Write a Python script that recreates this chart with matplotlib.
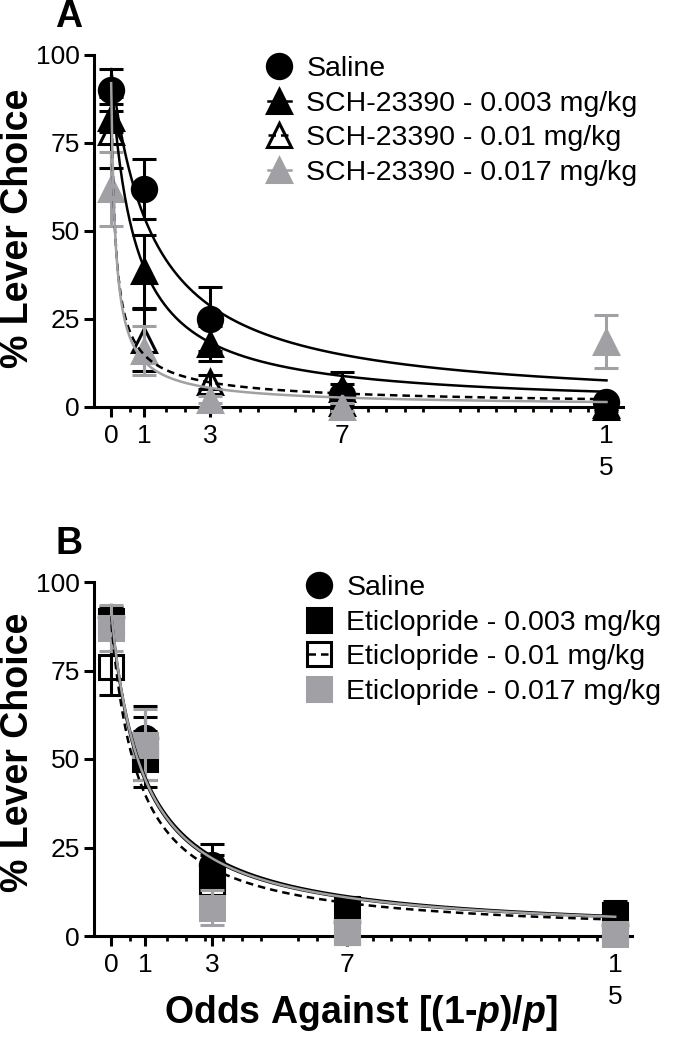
import numpy as np
import matplotlib
matplotlib.use("Agg")
import matplotlib.pyplot as plt
from matplotlib.lines import Line2D

plt.rcParams['font.family'] = ['Liberation Sans', 'DejaVu Sans']
plt.rcParams['mathtext.fontset'] = 'custom'
plt.rcParams['mathtext.it'] = 'Liberation Sans:italic:bold'
plt.rcParams['mathtext.rm'] = 'Liberation Sans:bold'

# x values (odds against)
odds = [0, 1, 3, 7, 15]
odds_labels = ['0', '1', '3', '7', '1\n5']

# Panel A - SCH-23390
labels_A = ['Saline', 'SCH-23390 - 0.003 mg/kg', 'SCH-23390 - 0.01 mg/kg', 'SCH-23390 - 0.017 mg/kg']
saline_A = [90, 62, 25, 3.5, 1.5]
saline_A_err = [6, 8.5, 9, 3, 1]
sch003 = [82, 38.5, 18, 5, 0]
sch003_err = [4, 10.5, 5, 5, 1]
sch01 = [78, 19, 7, 1, 0.5]
sch01_err = [10, 8.7, 2, 1, 1]
sch017 = [62, 16, 2, 0, 18.5]
sch017_err = [10.5, 7, 1, 1, 7.5]
# fitted curves y = amp / (1 + k*x)^s
fitA_amp = [96, 94, 94, 92]
fitA_k = [0.78, 1.38, 12, 9]
fitA_s = [1, 1, 0.72, 0.85]

# Panel B - Eticlopride
labels_B = ['Saline', 'Eticlopride - 0.003 mg/kg', 'Eticlopride - 0.01 mg/kg', 'Eticlopride - 0.017 mg/kg']
saline_B = [90, 56, 20, 4, 3]
saline_B_err = [3, 9, 6, 3, 2]
eti003 = [89, 50, 17, 7.5, 6]
eti003_err = [3, 8, 6, 3.5, 4]
eti01 = [76, 53, 15, 1, 1]
eti01_err = [8, 9, 5, 2, 1]
eti017 = [87, 54, 8, 1, 0.5]
eti017_err = [6.5, 10, 5, 2, 1]
fitB_amp = [90, 90, 88, 91]
fitB_k = [1.0, 1.05, 1.2, 1.05]
fitB_s = [1, 1, 1, 1]

GRAY = '#a0a0a5'
black = 'black'
MS = 17.5


def panel(ax, ys, errs, amps, ks, ss, labels, marker, legend_pos):
    styles = [
        dict(marker='o', color=black, mfc=black, ls='-'),
        dict(marker=marker, color=black, mfc=black, ls='-'),
        dict(marker=marker, color=black, mfc='none', ls='--'),
        dict(marker=marker, color=GRAY, mfc=GRAY, ls='-'),
    ]
    xs = np.linspace(0, 15, 400)
    handles = []
    for i, (y, e, st) in enumerate(zip(ys, errs, styles)):
        eb = ax.errorbar(odds, y, yerr=e, fmt=st['marker'], ms=MS, color=st['color'],
                         mfc=st['mfc'], mec=st['color'], mew=2.2, capsize=8.5,
                         elinewidth=2.2, capthick=2.4, zorder=3 + i)
        eb.lines[0].set_clip_on(False)
        for art in list(eb.lines[1]) + list(eb.lines[2]):
            art.set_clip_on(False)
        curve = amps[i] / (1 + ks[i] * xs) ** ss[i]
        ax.plot(xs, curve, ls=st['ls'], color=st['color'], lw=1.8, zorder=10,
                dashes=(3, 2) if st['ls'] == '--' else (None, None), clip_on=False)
        h = Line2D([], [], marker=st['marker'], ms=MS, color=st['color'], mfc=st['mfc'],
                   mec=st['color'], mew=2.2, lw=1.8, ls=st['ls'])
        if st['ls'] == '--':
            h.set_dashes((3, 2))
        handles.append(h)

    ax.set_xlim(-0.52, 15.5)
    ax.set_ylim(0, 100)
    ax.spines['top'].set_visible(False)
    ax.spines['right'].set_visible(False)
    for sp in ('left', 'bottom'):
        ax.spines[sp].set_linewidth(2.2)
    ax.set_yticks([0, 25, 50, 75, 100])
    ax.set_xticks(odds)
    ax.set_xticklabels(odds_labels, linespacing=1.45)
    minor = [j * 5 / 9 for j in range(28) if j not in (0, 9, 18, 27)]
    minor = [m for m in minor if min(abs(m - o) for o in odds) > 0.12]
    ax.set_xticks(minor, minor=True)
    ax.tick_params(axis='both', which='major', labelsize=19, width=2.2, length=7, pad=3)
    ax.tick_params(axis='x', which='major', pad=5)
    ax.tick_params(axis='x', which='minor', width=2, length=3.5)
    ax.legend(handles, labels, loc='upper left', bbox_to_anchor=legend_pos,
              bbox_transform=ax.figure.transFigure, frameon=False, fontsize=20.5,
              handlelength=0.8, handletextpad=0.55, labelspacing=0.3, borderpad=0,
              borderaxespad=0)


fig = plt.figure(figsize=(6.82, 10.5), dpi=100)
W, H = 682, 1050
axA = fig.add_axes([94 / W, 1 - 407 / H, (623 - 94) / W, (407 - 55) / H])
axB = fig.add_axes([94 / W, 1 - 936 / H, (632 - 94) / W, (936 - 582) / H])

panel(axA, [saline_A, sch003, sch01, sch017],
      [saline_A_err, sch003_err, sch01_err, sch017_err],
      fitA_amp, fitA_k, fitA_s, labels_A, '^', (268 / W, 1 - 56 / H))
panel(axB, [saline_B, eti003, eti01, eti017],
      [saline_B_err, eti003_err, eti01_err, eti017_err],
      fitB_amp, fitB_k, fitB_s, labels_B, 's', (308 / W, 1 - 575 / H))

fig.text(69 / W, 1 - 17 / H, 'A', fontsize=27, fontweight='bold', ha='center', va='center')
fig.text(69 / W, 1 - 544 / H, 'B', fontsize=27, fontweight='bold', ha='center', va='center')
fig.text(18 / W, 1 - 228 / H, '% Lever Choice', fontsize=27, fontweight='bold',
         rotation=90, ha='center', va='center')
fig.text(18 / W, 1 - 752 / H, '% Lever Choice', fontsize=27, fontweight='bold',
         rotation=90, ha='center', va='center')
fig.text(361 / W, 1 - 1013 / H, 'Odds Against [(1-$\\mathit{p}$)/$\\mathit{p}$]',
         fontsize=27, fontweight='bold', ha='center', va='center')

fig.savefig('out.png', dpi=100)
